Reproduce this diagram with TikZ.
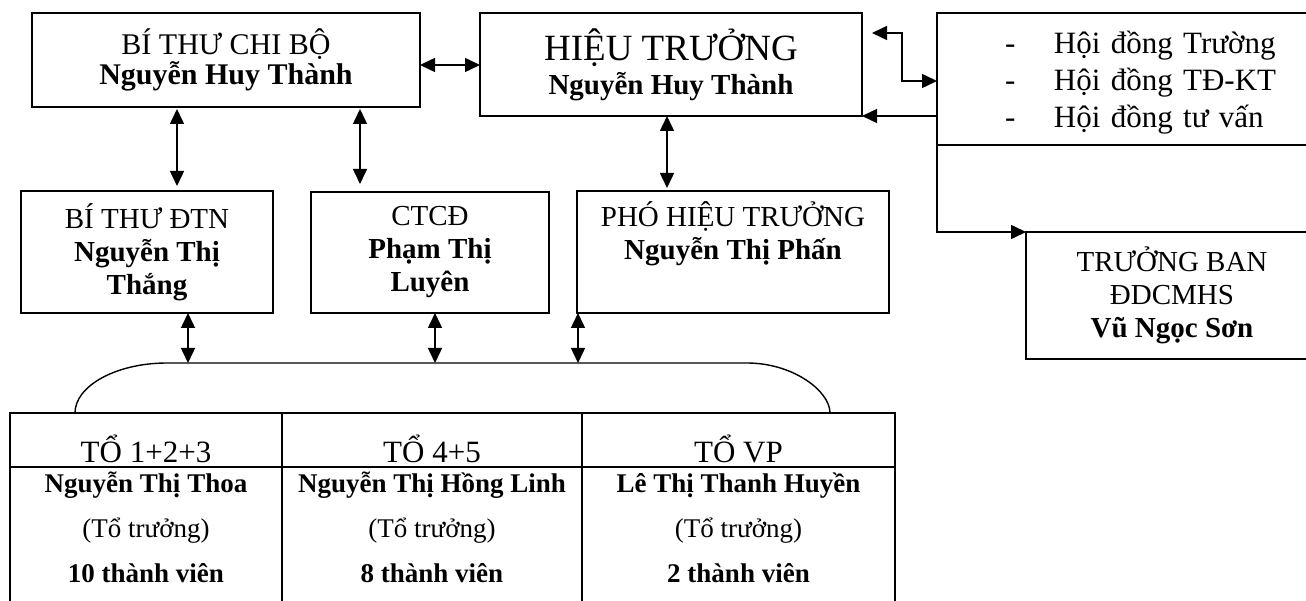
\documentclass[tikz,border=0pt]{standalone}
\usepackage{fontspec}
\setmainfont{Liberation Serif}
\usetikzlibrary{arrows.meta}

\tikzset{
    box/.style={draw,line width=1.7pt,inner sep=0pt,outer sep=0pt,align=center},
    dbl/.style={line width=1.5pt,{Triangle[length=15pt,width=14pt]}-{Triangle[length=15pt,width=14pt]}},
    sgl/.style={line width=1.5pt,-{Triangle[length=15pt,width=14pt]}},
}

\begin{document}
\setlength{\lineskiplimit}{-100pt}
\begin{tikzpicture}[x=1pt,y=-1pt]
    \providecommand{\topfontsize}{\fontsize{30}{30}\selectfont}
    \providecommand{\headfontsize}{\fontsize{37}{34}\selectfont}
    \providecommand{\rowfontsize}{\fontsize{29}{33}\selectfont}
    \providecommand{\listfontsize}{\fontsize{31}{37}\selectfont}
    \providecommand{\groupfontsize}{\fontsize{31}{31}\selectfont}
    \providecommand{\tablefontsize}{\fontsize{27}{45}\selectfont}
    \useasboundingbox (0,0) rectangle (1306,601);
    \clip (0,0) rectangle (1306,601);

    % top row
    \node[box,minimum width=388pt,minimum height=94pt,font=\topfontsize] (btcb) at (226,60)
    {BÍ THƯ CHI BỘ\\\textbf{Nguyễn Huy Thành}};
    \node[box,minimum width=382pt,minimum height=103pt,font=\fontsize{29}{34}\selectfont] (ht) at (671,64.5)
    {{\headfontsize HIỆU TRƯỞNG}\\\textbf{Nguyễn Huy Thành}};
    \node[box,anchor=north west,align=left,minimum height=132pt,text width=300pt,inner xsep=68pt,font=\listfontsize] (hd) at (937,13)
    {\rule{0pt}{30pt}\makebox[49pt][l]{-}Hội đồng Trường\\\makebox[49pt][l]{-}Hội đồng TĐ-KT\\\makebox[49pt][l]{-}Hội đồng tư vấn};
    \node[box,minimum width=292pt,minimum height=127pt,font=\rowfontsize] (tb) at (1172,295.5)
    {TRƯỞNG BAN\\ĐDCMHS\\\textbf{Vũ Ngọc Sơn}};

    % second row
    \node[box,minimum width=252pt,minimum height=122pt,font=\rowfontsize] (btdtn) at (147,252)
    {BÍ THƯ ĐTN\\\textbf{Nguyễn Thị}\\\textbf{Thắng}};
    \node[box,minimum width=238pt,minimum height=121pt,font=\rowfontsize] (ctcd) at (430,252.5)
    {CTCĐ\\\textbf{Phạm Thị}\\\textbf{Luyên}};
    \node[box,minimum width=312pt,minimum height=122pt,font=\rowfontsize] (pht) at (733,252)
    {PHÓ HIỆU TRƯỞNG\\\textbf{Nguyễn Thị Phấn}\\\strut};

    % groups
    \node[box,minimum width=272pt,text height=49pt,text depth=5pt,font=\groupfontsize] (h1) at (146,440) {TỔ 1+2+3};
    \node[box,minimum width=300pt,text height=49pt,text depth=5pt,font=\groupfontsize] (h2) at (432,440) {TỔ 4+5};
    \node[box,minimum width=313pt,text height=49pt,text depth=5pt,font=\groupfontsize] (h3) at (738.5,440) {TỔ VP};
    \node[anchor=north,inner sep=0pt,align=center,font=\tablefontsize] (m1) at ([yshift=5pt]h1.south)
    {\rule{0pt}{30pt}\textbf{Nguyễn Thị Thoa}\\(Tổ trưởng)\\\textbf{10 thành viên}};
    \node[anchor=north,inner sep=0pt,align=center,font=\tablefontsize] (m2) at ([yshift=5pt]h2.south)
    {\rule{0pt}{30pt}\textbf{Nguyễn Thị Hồng Linh}\\(Tổ trưởng)\\\textbf{8 thành viên}};
    \node[anchor=north,inner sep=0pt,align=center,font=\tablefontsize] (m3) at ([yshift=5pt]h3.south)
    {\rule{0pt}{30pt}\textbf{Lê Thị Thanh Huyền}\\(Tổ trưởng)\\\textbf{2 thành viên}};
    \foreach \c in {h1.south west,h2.south west,h3.south west,h3.south east}
        \draw[line width=1.7pt] (\c) -- ++(0,150);

    \coordinate (brk) at (0,363);
    \draw[line width=1.4pt] ([xshift=65pt]h1.north west) .. controls +(0,-27) and +(-51,0) .. ([xshift=167pt]brk)
        -- ([xshift=747pt]brk) .. controls +(46,0) and +(0,-22) .. ([xshift=-65pt]h3.north east);

    % connectors
    \draw[dbl] ([yshift=-5pt]btcb.east) coordinate (q1) -- (q1 -| ht.west);
    \draw[dbl,shorten <=2pt,shorten >=5pt] ([xshift=145pt]btcb.south west) coordinate (q2) -- (q2 |- btdtn.north);
    \draw[dbl,shorten <=2pt,shorten >=8pt] ([xshift=328pt]btcb.south west) coordinate (q3) -- (q3 |- ctcd.north);
    \draw[dbl,shorten >=3pt] ([xshift=187pt]ht.south west) coordinate (q4) -- (q4 |- pht.north);
    \draw[dbl] ([xshift=10pt,yshift=-20pt]ht.north east) -- ++(30,0) |- ([yshift=-68pt]hd.north west);
    \draw[sgl] (hd.west |- ht.south east) -- (ht.south east);
    \draw[sgl] (hd.south west) |- (tb.north west);
    \draw[dbl] ([xshift=167pt]btdtn.south west) coordinate (p1) -- (p1 |- brk);
    \draw[dbl] ([xshift=124pt]ctcd.south west) coordinate (p2) -- (p2 |- brk);
    \draw[dbl] ([xshift=1pt]pht.south west) coordinate (p3) -- (p3 |- brk);
\end{tikzpicture}
\end{document}
